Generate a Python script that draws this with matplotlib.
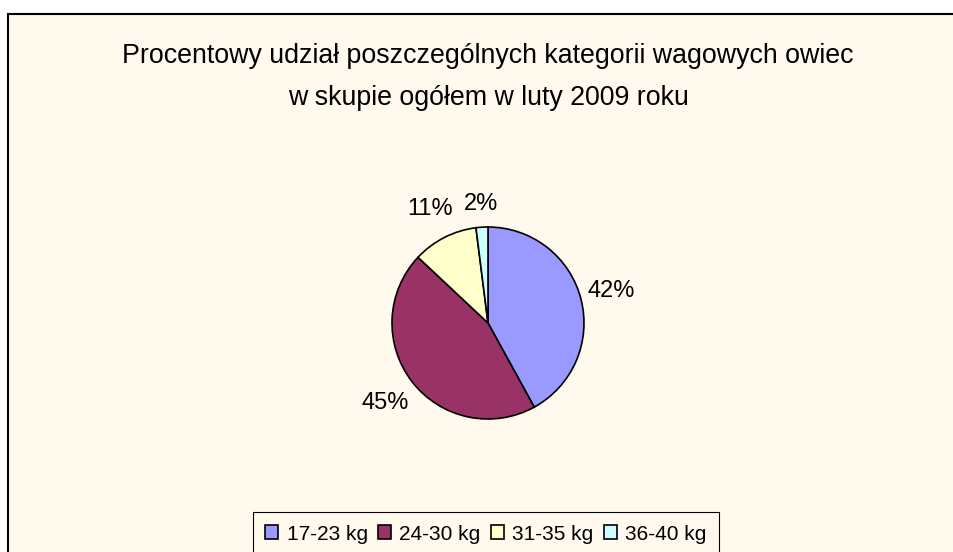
import matplotlib
matplotlib.use('Agg')
import matplotlib.pyplot as plt
from matplotlib.patches import Rectangle

# --- Data -------------------------------------------------------------------
categories = ['17-23 kg', '24-30 kg', '31-35 kg', '36-40 kg']
shares = [42, 45, 11, 2]
colors = ['#9999FF', '#993366', '#FFFFCC', '#CCFFFF']
title = 'Procentowy udział poszczególnych kategorii wagowych owiec\nw skupie ogółem w luty 2009 roku'

W, H = 954, 552
bg = '#FFF9EE'

plt.rcParams['font.family'] = ['Liberation Sans', 'DejaVu Sans']

fig = plt.figure(figsize=(W / 100, H / 100), dpi=100)
fig.patch.set_facecolor('white')

# chart area with black border (runs off right and bottom)
bg_ax = fig.add_axes([0, 0, 1, 1], zorder=-1)
bg_ax.set_axis_off()
bg_ax.set_xlim(0, W)
bg_ax.set_ylim(H, 0)
bg_ax.add_patch(Rectangle((8, 14), W + 20, H + 20, facecolor=bg,
                          edgecolor='black', linewidth=1.5))

fig.text(488 / W, 1 - 77 / H, title, ha='center', va='center', fontsize=19.3,
         linespacing=1.8, family=['Liberation Sans Narrow', 'Liberation Sans', 'DejaVu Sans'])

# --- Pie --------------------------------------------------------------------
cx, cy, r = 488, 323, 96
ax = fig.add_axes([(cx - r) / W, (H - cy - r) / H, 2 * r / W, 2 * r / H], zorder=1)
ax.set_facecolor('none')
wedges, _, autotexts = ax.pie(shares, colors=colors, startangle=90, counterclock=False,
                              autopct='%1.0f%%', pctdistance=1.32,
                              wedgeprops=dict(edgecolor='black', linewidth=1.2),
                              textprops=dict(fontsize=17, color='black'))
# label distances vary a little, as in the original
label_dist = [1.33, 1.36, 1.33, 1.24]
for t, d in zip(autotexts, label_dist):
    x, y = t.get_position()
    t.set_position((x * d / 1.32, y * d / 1.32))
ax.set_xlim(-1, 1)
ax.set_ylim(-1, 1)
ax.set_aspect('equal')

# --- Legend -----------------------------------------------------------------
leg = fig.legend(wedges, categories, loc='upper center', bbox_to_anchor=(486 / W, 1 - 512 / H),
                 ncol=4, fontsize=15, frameon=True, fancybox=False, edgecolor='black',
                 facecolor=bg, framealpha=1, handlelength=0.62, handleheight=0.62,
                 handletextpad=0.4, columnspacing=0.5, borderpad=0.6, borderaxespad=0)
leg.get_frame().set_linewidth(0.8)
leg.set_zorder(2)

fig.savefig('out.png', dpi=100, facecolor=fig.get_facecolor())
